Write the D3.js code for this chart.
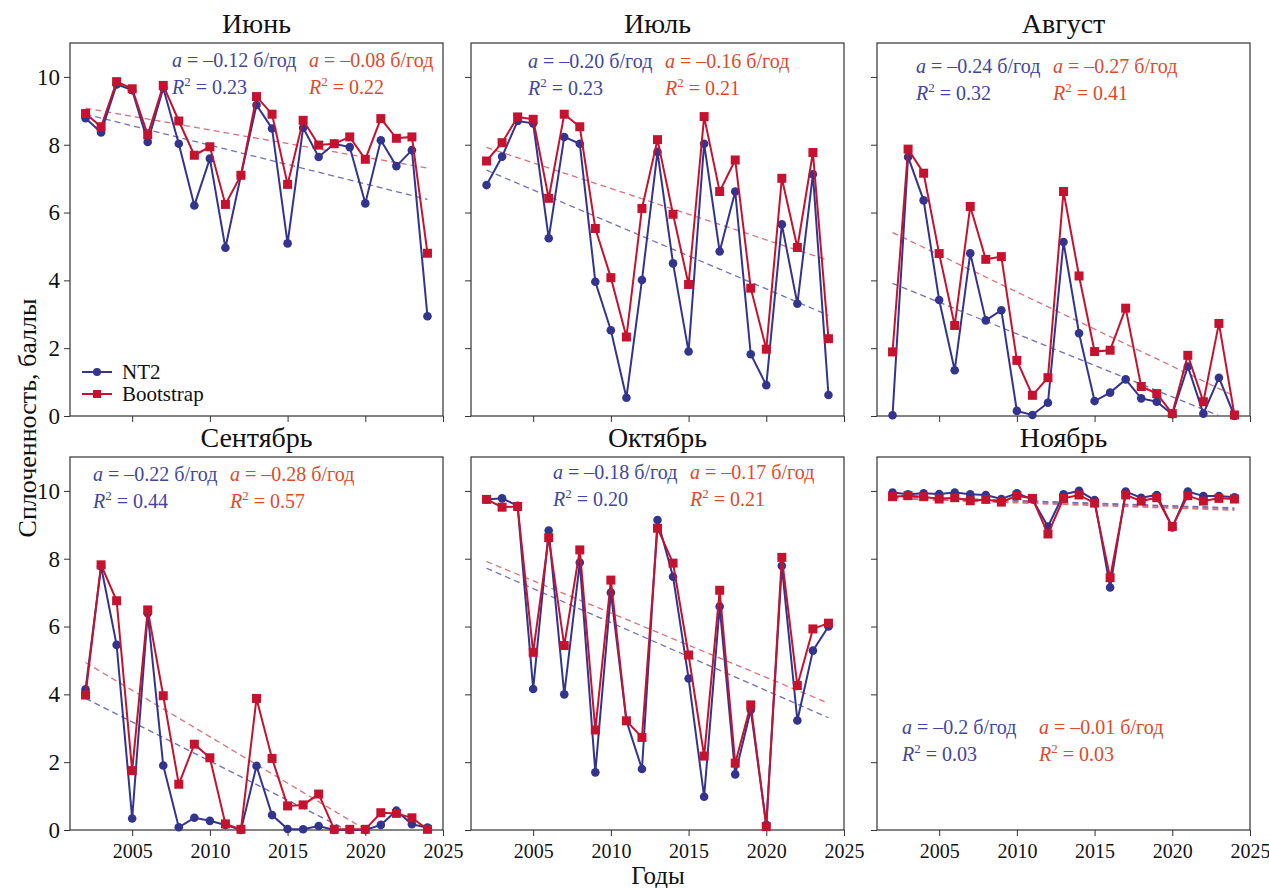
<!DOCTYPE html>
<html>
<head>
<meta charset="utf-8">
<script src="https://cdn.jsdelivr.net/npm/d3@7"></script>
<style>
  body { margin: 0; background: #fff; }
  svg, svg text { font-family: "Times New Roman", Tinos, "Liberation Serif", "DejaVu Serif", "Noto Serif", serif !important; }
</style>
</head>
<body>
<div id="chart"></div>
<script>
// years on the x axis
var years = d3.range(2002, 2025);

var months = ["Июнь", "Июль", "Август", "Сентябрь", "Октябрь", "Ноябрь"];

// NT2 and Bootstrap values, one array per month
var juneNT2  = [8.78, 8.36, 9.78, 9.61, 8.08, 9.67, 8.03, 6.21, 7.59, 4.96, 7.10, 9.17, 8.48, 5.09, 8.50, 7.64, 8.03, 7.93, 6.27, 8.13, 7.37, 7.84, 2.94];
var juneBoot = [8.92, 8.53, 9.86, 9.65, 8.29, 9.75, 8.70, 7.69, 7.94, 6.24, 7.10, 9.42, 8.90, 6.83, 8.72, 7.99, 8.03, 8.23, 7.57, 8.77, 8.19, 8.23, 4.80];
var julyNT2  = [6.81, 7.65, 8.70, 8.63, 5.24, 8.23, 8.03, 3.96, 2.53, 0.54, 4.01, 7.79, 4.50, 1.90, 8.03, 4.85, 6.62, 1.82, 0.91, 5.65, 3.31, 7.13, 0.62];
var julyBoot = [7.52, 8.06, 8.82, 8.75, 6.42, 8.90, 8.53, 5.53, 4.08, 2.33, 6.12, 8.15, 5.95, 3.88, 8.83, 6.62, 7.55, 3.77, 1.97, 7.01, 4.97, 7.77, 2.28];
var augNT2   = [0.02, 7.64, 6.36, 3.42, 1.35, 4.80, 2.82, 3.12, 0.15, 0.03, 0.39, 5.13, 2.44, 0.44, 0.69, 1.08, 0.52, 0.42, 0.05, 1.46, 0.07, 1.13, 0.00];
var augBoot  = [1.89, 7.87, 7.16, 4.79, 2.67, 6.18, 4.62, 4.70, 1.64, 0.61, 1.13, 6.62, 4.13, 1.90, 1.94, 3.18, 0.87, 0.66, 0.07, 1.79, 0.42, 2.73, 0.03];
var septNT2  = [4.15, 7.77, 5.46, 0.34, 6.39, 1.90, 0.08, 0.36, 0.27, 0.15, 0.00, 1.89, 0.44, 0.03, 0.02, 0.12, 0.00, 0.00, 0.00, 0.15, 0.57, 0.17, 0.07];
var septBoot = [3.98, 7.82, 6.76, 1.75, 6.49, 3.96, 1.35, 2.53, 2.13, 0.18, 0.02, 3.88, 2.11, 0.71, 0.74, 1.06, 0.02, 0.02, 0.02, 0.51, 0.49, 0.36, 0.02];
var octNT2   = [9.75, 9.78, 9.56, 4.16, 8.83, 4.00, 7.89, 1.70, 7.00, 3.22, 1.80, 9.14, 7.47, 4.47, 0.98, 6.59, 1.64, 3.54, 0.15, 7.79, 3.23, 5.29, 6.00];
var octBoot  = [9.75, 9.52, 9.54, 5.24, 8.62, 5.44, 8.26, 2.95, 7.37, 3.22, 2.73, 8.90, 7.87, 5.16, 2.18, 7.07, 1.97, 3.69, 0.10, 8.04, 4.26, 5.93, 6.10];
var novNT2   = [9.95, 9.90, 9.93, 9.91, 9.95, 9.90, 9.88, 9.76, 9.93, 9.75, 8.95, 9.90, 10.0, 9.73, 7.15, 9.98, 9.80, 9.88, 8.92, 9.98, 9.85, 9.85, 9.81];
var novBoot  = [9.83, 9.86, 9.83, 9.76, 9.80, 9.71, 9.75, 9.67, 9.86, 9.78, 8.73, 9.78, 9.88, 9.64, 7.44, 9.88, 9.70, 9.80, 8.95, 9.86, 9.70, 9.78, 9.76];

var nt2Series  = [juneNT2, julyNT2, augNT2, septNT2, octNT2, novNT2];
var bootSeries = [juneBoot, julyBoot, augBoot, septBoot, octBoot, novBoot];

// trend lines: value in 2002 and in 2024
var trendNT2  = [[8.90, 6.39], [7.25, 2.97], [3.91, -0.18], [3.88, -1.20], [7.72, 3.31], [9.83, 9.49]];
var trendBoot = [[9.08, 7.31], [7.92, 4.59], [5.41, 0.59], [4.94, -1.08], [7.92, 3.74], [9.78, 9.44]];

// annotation texts
var slopeNT2  = ["–0.12", "–0.20", "–0.24", "–0.22", "–0.18", "–0.2"];
var slopeBoot = ["–0.08", "–0.16", "–0.27", "–0.28", "–0.17", "–0.01"];
var r2NT2     = ["0.23", "0.23", "0.32", "0.44", "0.20", "0.03"];
var r2Boot    = ["0.22", "0.21", "0.41", "0.57", "0.21", "0.03"];

var xTicks = [2005, 2010, 2015, 2020, 2025];
var yTicks = [0, 2, 4, 6, 8, 10];

// layout
var panelLeft = [70, 471, 877],
    panelTop = [43, 457],
    pw = 373, ph = 373;
// annotation position inside each panel: [x, baseline y]
var annoPos = [[102, 24], [57, 25], [39, 30], [23, 24], [82, 22], [25, 277]];

var blue = "#33348e", red = "#c4122f",
    blueText = "#4046a0", redText = "#dc4a2c",
    blueTrend = "#6f70b8", redTrend = "#d8727a";

var serif = "'Times New Roman', Tinos, 'Liberation Serif', 'DejaVu Serif', serif";

var svg = d3.select("#chart")
  .append("svg")
    .attr("width", 1269)
    .attr("height", 888)
    .attr("font-family", serif);

var x = d3.scaleLinear().domain([2001, 2025]).range([0, pw]);
var y = d3.scaleLinear().domain([0, 11]).range([ph, 0]);

var line = d3.line()
  .x(function(d) { return x(d[0]); })
  .y(function(d) { return y(d[1]); });

months.forEach(function(month, i) {
  var col = i % 3, row = Math.floor(i / 3);
  var g = svg.append("g")
    .attr("transform", "translate(" + panelLeft[col] + "," + panelTop[row] + ")");

  // clip for trend lines
  g.append("clipPath")
    .attr("id", "clip" + i)
    .append("rect")
      .attr("width", pw)
      .attr("height", ph);

  // axes
  g.append("g")
    .attr("transform", "translate(0," + ph + ")")
    .call(d3.axisBottom(x).tickValues(xTicks).tickSize(6).tickPadding(8)
      .tickFormat(row == 1 ? d3.format("d") : ""))
    .call(function(a) {
      a.attr("font-family", serif);
      a.select(".domain").remove();
      a.selectAll("line").attr("stroke", "#333");
      a.selectAll("text").style("font-size", "20px").attr("fill", "#111");
    });

  g.append("g")
    .call(d3.axisLeft(y).tickValues(yTicks).tickSize(6).tickPadding(4)
      .tickFormat(col == 0 ? d3.format("d") : ""))
    .call(function(a) {
      a.attr("font-family", serif);
      a.select(".domain").remove();
      a.selectAll("line").attr("stroke", "#333");
      a.selectAll("text").style("font-size", "23px").attr("fill", "#111");
    });

  // frame
  g.append("rect")
    .attr("width", pw)
    .attr("height", ph)
    .attr("fill", "none")
    .attr("stroke", "#333")
    .attr("stroke-width", 1.2);

  // title
  g.append("text")
    .attr("x", pw / 2)
    .attr("y", -10)
    .attr("text-anchor", "middle")
    .style("font-size", "28px")
    .attr("fill", "#111")
    .text(month);

  // trend lines
  [[trendNT2[i], blueTrend], [trendBoot[i], redTrend]].forEach(function(t) {
    g.append("path")
      .datum([[2002, t[0][0]], [2024, t[0][1]]])
      .attr("clip-path", "url(#clip" + i + ")")
      .attr("d", line)
      .attr("fill", "none")
      .attr("stroke", t[1])
      .attr("stroke-width", i == 5 ? 2 : 1.3)
      .attr("stroke-dasharray", "6,4");
  });

  var nt2 = years.map(function(yr, k) { return [yr, nt2Series[i][k]]; });
  var boot = years.map(function(yr, k) { return [yr, bootSeries[i][k]]; });

  // NT2
  g.append("path")
    .datum(nt2)
    .attr("d", line)
    .attr("fill", "none")
    .attr("stroke", blue)
    .attr("stroke-width", 2);
  g.selectAll(".dot")
    .data(nt2)
    .enter()
    .append("circle")
      .attr("cx", function(d) { return x(d[0]); })
      .attr("cy", function(d) { return y(d[1]); })
      .attr("r", 4.3)
      .attr("fill", blue);

  // Bootstrap
  g.append("path")
    .datum(boot)
    .attr("d", line)
    .attr("fill", "none")
    .attr("stroke", red)
    .attr("stroke-width", 2);
  g.selectAll(".sq")
    .data(boot)
    .enter()
    .append("rect")
      .attr("x", function(d) { return x(d[0]) - 4.5; })
      .attr("y", function(d) { return y(d[1]) - 4.5; })
      .attr("width", 9)
      .attr("height", 9)
      .attr("fill", red);

  // annotations
  var ax = annoPos[i][0], ay = annoPos[i][1];
  [[ax, blueText, slopeNT2[i], r2NT2[i]], [ax + 137, redText, slopeBoot[i], r2Boot[i]]].forEach(function(a) {
    var t1 = g.append("text")
      .attr("x", a[0]).attr("y", ay)
      .attr("fill", a[1])
      .style("font-size", "20px");
    t1.append("tspan").style("font-style", "italic").text("a");
    t1.append("tspan").text(" = " + a[2] + " б/год");

    var t2 = g.append("text")
      .attr("x", a[0]).attr("y", ay + 27)
      .attr("fill", a[1])
      .style("font-size", "20px");
    t2.append("tspan").style("font-style", "italic").text("R");
    t2.append("tspan").attr("dy", -8).style("font-size", "13px").text("2");
    t2.append("tspan").attr("dy", 8).text(" = " + a[3]);
  });

  // legend in the first panel
  if (i == 0) {
    var leg = [["NT2", blue, "c"], ["Bootstrap", red, "s"]];
    leg.forEach(function(l, k) {
      var ly = 329 + k * 22;
      g.append("line")
        .attr("x1", 12).attr("x2", 42)
        .attr("y1", ly).attr("y2", ly)
        .attr("stroke", l[1])
        .attr("stroke-width", 2);
      if (l[2] == "c") {
        g.append("circle").attr("cx", 27).attr("cy", ly).attr("r", 4).attr("fill", l[1]);
      } else {
        g.append("rect").attr("x", 23).attr("y", ly - 4).attr("width", 8).attr("height", 8).attr("fill", l[1]);
      }
      g.append("text")
        .attr("x", 52)
        .attr("y", ly + 7)
        .style("font-size", "21px")
        .attr("fill", "#111")
        .text(l[0]);
    });
  }
});

// axis titles
svg.append("text")
  .attr("transform", "translate(36,418) rotate(-90)")
  .attr("text-anchor", "middle")
  .style("font-size", "26px")
  .attr("fill", "#111")
  .text("Сплоченность, баллы");

svg.append("text")
  .attr("x", 658)
  .attr("y", 884)
  .attr("text-anchor", "middle")
  .style("font-size", "25px")
  .attr("fill", "#111")
  .text("Годы");
</script>
</body>
</html>
